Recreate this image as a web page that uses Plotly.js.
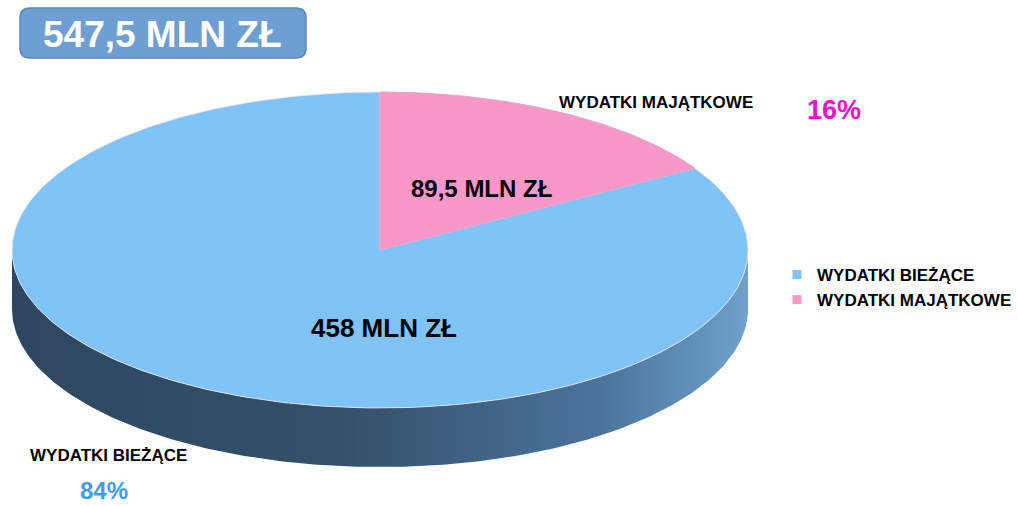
<!DOCTYPE html>
<html>
<head>
<meta charset="utf-8">
<script src="https://cdn.plot.ly/plotly-3.0.1.min.js"></script>
<style>html,body{margin:0;padding:0;background:#fff;}#chart{width:1018px;height:506px;}</style>
</head>
<body>
<div id="chart"></div>
<script>
// ---- data ----
const categories = ["WYDATKI BIEŻĄCE", "WYDATKI MAJĄTKOWE"];
const values = [458, 89.5];
const valueLabels = ["458 MLN ZŁ", "89,5 MLN ZŁ"];
const totalLabel = "547,5 MLN ZŁ";

// ---- styling / geometry ----
const W = 1018, H = 506;
const cx = 380, cy = 250, rx = 368, ry = 158, depth = 59;
const topColors = ["#7fc3f7", "#f898c8"];
const pctColors = ["#3d9cf2", "#f00fcc"];
const FONT = "Liberation Sans, Arial, sans-serif";

const total = values.reduce((a, b) => a + b, 0);
const pct = values.map(v => Math.round(v / total * 100) + "%");

function pt(deg, dy) {
  const r = deg * Math.PI / 180;
  return [cx + rx * Math.sin(r), cy - ry * Math.cos(r) + (dy || 0)];
}
function arc(a0, a1, dy, n) {
  const out = [];
  for (let i = 0; i <= n; i++) out.push(pt(a0 + (a1 - a0) * i / n, dy));
  return out;
}

// slice angles: MAJĄTKOWE starts at 12 o'clock, clockwise; BIEŻĄCE takes the rest
const angM = 360 * values[1] / total;
const sliceM = [[cx, cy]].concat(arc(0, angM, 0, 80), [[cx, cy]]);
const sliceB = [[cx, cy]].concat(arc(angM, 360, 0, 300), [[cx, cy]]);
const side = arc(90, 270, 0, 200).concat(arc(270, 90, depth, 200));
side.push(side[0]);

const traces = [
  {
    x: side.map(p => p[0]), y: side.map(p => p[1]),
    mode: "lines", fill: "toself", line: {width: 0},
    fillgradient: {type: "horizontal", colorscale: [[0, "#2e475e"], [0.45, "#34506b"], [0.8, "#4a749c"], [1, "#70a0cc"]]},
    showlegend: false, hoverinfo: "skip"
  },
  {
    x: sliceB.map(p => p[0]), y: sliceB.map(p => p[1]),
    mode: "lines", fill: "toself", fillcolor: topColors[0],
    line: {width: 0.8, color: "#f3e6ef"}, showlegend: false, hoverinfo: "skip"
  },
  {
    x: sliceM.map(p => p[0]), y: sliceM.map(p => p[1]),
    mode: "lines", fill: "toself", fillcolor: topColors[1],
    line: {width: 1, color: "#e8a0c8"}, showlegend: false, hoverinfo: "skip"
  },
  {
    x: [null], y: [null], mode: "markers", name: categories[0],
    marker: {symbol: "square", size: 9, color: topColors[0]}
  },
  {
    x: [null], y: [null], mode: "markers", name: categories[1],
    marker: {symbol: "square", size: 9, color: topColors[1]}
  }
];

const ann = (x, y, text, size, color, yanchor) => ({
  x: x, y: y, xref: "x", yref: "y", text: text, showarrow: false,
  yanchor: yanchor || "middle", borderpad: 0,
  font: {family: FONT, size: size, color: color, weight: "bold"}
});

const layout = {
  width: W, height: H,
  margin: {l: 0, r: 0, t: 0, b: 0},
  paper_bgcolor: "#ffffff", plot_bgcolor: "#ffffff",
  xaxis: {range: [0, W], visible: false, fixedrange: true},
  yaxis: {range: [H, 0], visible: false, fixedrange: true},
  showlegend: true,
  legend: {
    x: 777 / W, xanchor: "left", y: 1 - 257 / H, yanchor: "top",
    font: {family: FONT, size: 17, color: "#000", weight: "bold"},
    itemwidth: 30, tracegroupgap: 0, bgcolor: "rgba(0,0,0,0)"
  },
  shapes: [{
    type: "path", xref: "x", yref: "y",
    path: "M30,8 L296,8 Q306,8 306,18 L306,48 Q306,58 296,58 L30,58 Q20,58 20,48 L20,18 Q20,8 30,8 Z",
    fillcolor: "#6e9fd4", line: {color: "#5a86bd", width: 1.5}
  }],
  annotations: [
    ann(162, 34, totalLabel, 37, "#ffffff"),
    ann(384, 328, valueLabels[0], 26, "#000000"),
    ann(481, 188, valueLabels[1], 24, "#000000"),
    ann(656, 102, categories[1], 17, "#000000"),
    ann(834, 110, pct[1], 27, pctColors[1]),
    ann(108, 455, categories[0], 17, "#000000"),
    ann(104, 505, pct[0], 24, pctColors[0], "bottom")
  ]
};

Plotly.newPlot("chart", traces, layout, {displayModeBar: false, staticPlot: true});
</script>
</body>
</html>
